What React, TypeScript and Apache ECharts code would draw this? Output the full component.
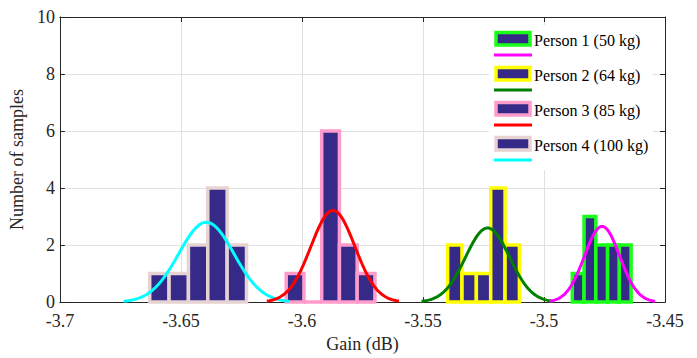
import React, { useEffect, useRef } from "react";
import * as echarts from "echarts";

// ---- data ----
const personNames = ["Person 1 (50 kg)", "Person 2 (64 kg)", "Person 3 (85 kg)", "Person 4 (100 kg)"];
const binStart = [-3.4883, -3.5398, -3.6065, -3.6629];
const binWidth = [0.00486, 0.00593, 0.00733, 0.008];
const counts1 = [1, 3, 2, 2, 2];
const counts2 = [2, 1, 1, 4, 2];
const counts3 = [1, 0, 6, 2, 1];
const counts4 = [1, 1, 2, 4, 2];
const allCounts = [counts1, counts2, counts3, counts4];
// normal fit parameters (histfit)
const fitMean = [-3.476, -3.5233, -3.5872, -3.6395];
const fitSigma = [0.0073, 0.0091, 0.0091, 0.0114];

const xTicks = [-3.7, -3.45];
const yTicks = [0, 10];

const NAVY = "#352a87";
const edgeColors = ["#1aff1a", "#ffff00", "#ff9ccc", "#e8d3d3"];
const curveColors = ["#ff00ff", "#008000", "#ff0000", "#00ffff"];
const FONT = "Liberation Serif";

function histData(p: number) {
  const c = allCounts[p];
  return c.map((v, i) => [binStart[p] + i * binWidth[p], binStart[p] + (i + 1) * binWidth[p], v]);
}

function fitCurve(p: number) {
  const n = allCounts[p].reduce((a, b) => a + b, 0);
  const scale = n * binWidth[p];
  const m = fitMean[p];
  const s = fitSigma[p];
  const pts: number[][] = [];
  const steps = 120;
  for (let i = 0; i <= steps; i++) {
    const x = m - 3 * s + (6 * s * i) / steps;
    const y = (scale / (s * Math.sqrt(2 * Math.PI))) * Math.exp(-((x - m) ** 2) / (2 * s * s));
    pts.push([x, y]);
  }
  return pts;
}

export default function App() {
  const ref = useRef<HTMLDivElement>(null);
  useEffect(() => {
    if (!ref.current) return;
    const chart = echarts.init(ref.current, undefined, { renderer: "svg" });
    const axisColor = "#262626";
    const fmt = (v: number) => String(parseFloat(v.toFixed(2)));

    const barSeries = [3, 2, 1, 0].map((p) => ({
      type: "custom",
      name: personNames[p],
      xAxisIndex: 0,
      yAxisIndex: 0,
      z: 2,
      clip: false,
      data: histData(p),
      renderItem: (params: any, api: any) => {
        const x0 = api.value(0);
        const x1 = api.value(1);
        const c = api.value(2);
        const a = api.coord([x0, c]);
        const b = api.coord([x1, 0]);
        return {
          type: "rect",
          shape: { x: a[0], y: a[1], width: b[0] - a[0], height: b[1] - a[1] },
          style: { fill: NAVY, stroke: edgeColors[p], lineWidth: 3.5 },
        };
      },
    }));

    const lineSeries = [3, 2, 1, 0].map((p) => ({
      type: "line",
      name: "fit" + p,
      xAxisIndex: 0,
      yAxisIndex: 0,
      z: 3,
      showSymbol: false,
      symbol: "none",
      smooth: false,
      data: fitCurve(p),
      lineStyle: { color: curveColors[p], width: 3 },
    }));

    // legend drawn as graphic
    const legendChildren: any[] = [
      { type: "rect", z: 100, shape: { x: 0, y: 0, width: 164, height: 145 }, style: { fill: "#ffffff" } },
    ];
    for (let p = 0; p < 4; p++) {
      const y0 = 7.45 + p * 35;
      legendChildren.push({
        type: "rect",
        z: 101,
        shape: { x: 7, y: y0, width: 34, height: 12.5 },
        style: { fill: NAVY, stroke: edgeColors[p], lineWidth: 3.5 },
      });
      legendChildren.push({
        type: "text",
        z: 101,
        x: 45,
        y: y0 + 8.5,
        style: { text: personNames[p], font: `16px "${FONT}"`, fill: "#000", verticalAlign: "middle" },
      });
      legendChildren.push({
        type: "line",
        z: 101,
        shape: { x1: 5, y1: y0 + 22.5, x2: 43, y2: y0 + 22.5 },
        style: { stroke: curveColors[p], lineWidth: 3 },
      });
    }

    chart.setOption({
      animation: false,
      backgroundColor: "#ffffff",
      grid: { left: 58, right: 32, top: 17, bottom: 49, show: false },
      xAxis: [
        {
          type: "value",
          min: xTicks[0],
          max: xTicks[1],
          interval: 0.05,
          name: "Gain (dB)",
          nameLocation: "middle",
          nameGap: 30,
          nameTextStyle: { fontFamily: FONT, fontSize: 18, color: axisColor },
          axisLine: { show: true, lineStyle: { color: axisColor, width: 1 } },
          axisTick: { show: true, inside: true, length: 5, lineStyle: { color: axisColor } },
          axisLabel: { fontFamily: FONT, fontSize: 18, color: axisColor, margin: 10, formatter: fmt },
          splitLine: { show: true, lineStyle: { color: "#e0e0e0", width: 1 } },
        },
        {
          type: "value",
          position: "top",
          min: xTicks[0],
          max: xTicks[1],
          interval: 0.05,
          axisLine: { show: true, onZero: false, lineStyle: { color: axisColor, width: 1 } },
          axisTick: { show: true, inside: true, length: 5, lineStyle: { color: axisColor } },
          axisLabel: { show: false },
          splitLine: { show: false },
        },
      ],
      yAxis: [
        {
          type: "value",
          min: yTicks[0],
          max: yTicks[1],
          interval: 2,
          name: "Number of samples",
          nameLocation: "middle",
          nameGap: 30,
          nameTextStyle: { fontFamily: FONT, fontSize: 18, color: axisColor },
          axisLine: { show: true, lineStyle: { color: axisColor, width: 1 } },
          axisTick: { show: true, inside: true, length: 5, lineStyle: { color: axisColor } },
          axisLabel: { fontFamily: FONT, fontSize: 18, color: axisColor, margin: 5 },
          splitLine: { show: true, lineStyle: { color: "#e0e0e0", width: 1 } },
        },
        {
          type: "value",
          position: "right",
          min: yTicks[0],
          max: yTicks[1],
          interval: 2,
          axisLine: { show: true, onZero: false, lineStyle: { color: axisColor, width: 1 } },
          axisTick: { show: true, inside: true, length: 5, lineStyle: { color: axisColor } },
          axisLabel: { show: false },
          splitLine: { show: false },
        },
      ],
      series: [...barSeries, ...lineSeries],
      graphic: [
        { type: "group", left: 489, top: 25, z: 100, children: legendChildren },
      ],
    });
    return () => chart.dispose();
  }, []);
  return <div ref={ref} style={{ position: "fixed", left: 0, top: 0, width: 697, height: 358 }} />;
}
